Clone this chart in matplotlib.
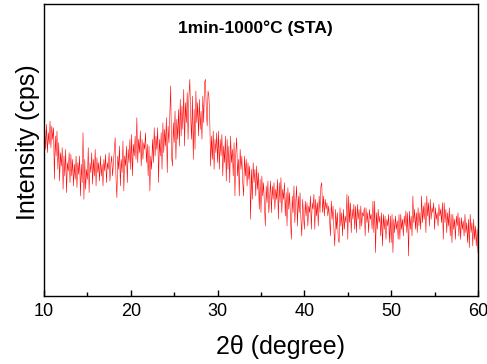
import numpy as np
import matplotlib
matplotlib.use("Agg")
import matplotlib.pyplot as plt
from matplotlib.ticker import MultipleLocator

plt.rcParams['font.family'] = ['Liberation Sans', 'DejaVu Sans']

# --- data (2theta step 0.1 deg, arbitrary cps) ---
two_theta_start = 10.0
two_theta_step = 0.1
intensity = [
    470, 500, 440, 515, 430, 490, 455, 525, 445, 510,   # 10
    470, 505, 350, 480, 420, 495, 380, 460, 345, 430,   # 11
    390, 445, 320, 420, 360, 440, 310, 400, 375, 430,   # 12
    340, 425, 360, 410, 330, 395, 350, 420, 325, 400,   # 13
    365, 420, 300, 395, 340, 490, 290, 410, 320, 380,   # 14
    350, 445, 310, 400, 370, 430, 335, 410, 360, 440,   # 15
    330, 415, 370, 400, 345, 420, 360, 395, 330, 410,   # 16
    375, 425, 340, 400, 380, 430, 345, 395, 420, 360,   # 17
    400, 440, 475, 350, 295, 420, 380, 450, 330, 410,   # 18
    370, 465, 315, 420, 390, 450, 340, 440, 400, 470,   # 19
    380, 485, 360, 455, 420, 480, 410, 535, 400, 470,   # 20
    430, 495, 390, 470, 410, 460, 440, 490, 400, 455,   # 21
    360, 450, 315, 420, 380, 470, 400, 505, 420, 480,   # 22
    440, 505, 340, 470, 420, 490, 380, 520, 430, 500,   # 23
    450, 535, 370, 510, 460, 540, 630, 420, 390, 520,   # 24
    460, 555, 410, 530, 470, 560, 450, 590, 480, 570,   # 25
    500, 620, 450, 580, 520, 610, 470, 600, 650, 540,   # 26
    470, 600, 410, 560, 440, 615, 520, 580, 480, 590,   # 27
    500, 555, 470, 600, 520, 640, 650, 560, 510, 615,   # 28
    600, 530, 390, 480, 410, 495, 380, 470, 430, 490,   # 29
    400, 495, 380, 470, 420, 485, 360, 450, 400, 480,   # 30
    345, 470, 380, 450, 340, 480, 400, 440, 360, 460,   # 31
    300, 430, 475, 360, 410, 300, 440, 380, 420, 340,   # 32
    300, 420, 360, 410, 330, 400, 350, 390, 230, 380,   # 33
    290, 400, 340, 380, 300, 390, 320, 370, 260, 350,   # 34
    250, 360, 300, 340, 270, 210, 330, 280, 345, 250,   # 35
    300, 345, 250, 330, 290, 340, 260, 320, 290, 350,   # 36
    230, 340, 280, 355, 250, 320, 290, 340, 240, 310,   # 37
    210, 325, 260, 310, 230, 170, 300, 250, 330, 220,   # 38
    280, 330, 210, 300, 250, 310, 230, 180, 290, 240,   # 39
    200, 285, 240, 280, 210, 270, 250, 300, 200, 280,   # 40
    260, 305, 200, 290, 240, 280, 210, 300, 250, 330,   # 41
    340, 250, 300, 240, 290, 260, 280, 240, 270, 230,   # 42
    180, 285, 230, 270, 200, 150, 260, 200, 250, 170,   # 43
    160, 265, 210, 250, 180, 260, 200, 240, 220, 305,   # 44
    170, 300, 220, 280, 190, 260, 230, 275, 200, 270,   # 45
    190, 275, 230, 260, 200, 270, 210, 250, 240, 265,   # 46
    180, 265, 220, 250, 190, 260, 230, 245, 200, 285,   # 47
    190, 285, 130, 250, 200, 260, 220, 240, 180, 250,   # 48
    150, 245, 200, 240, 170, 230, 210, 245, 160, 240,   # 49
    160, 245, 130, 230, 190, 240, 200, 225, 170, 245,   # 50
    170, 245, 200, 230, 180, 240, 210, 255, 190, 250,   # 51
    120, 255, 200, 240, 180, 300, 220, 260, 200, 250,   # 52
    190, 265, 210, 250, 200, 300, 220, 270, 230, 280,   # 53
    190, 300, 240, 280, 210, 290, 230, 265, 250, 280,   # 54
    200, 265, 230, 250, 210, 275, 240, 260, 220, 280,   # 55
    170, 280, 220, 260, 190, 250, 210, 265, 180, 245,   # 56
    160, 245, 200, 230, 170, 240, 210, 250, 180, 235,   # 57
    170, 235, 200, 225, 180, 245, 190, 220, 160, 230,   # 58
    145, 245, 190, 220, 150, 230, 170, 210, 150, 200,   # 59
    130,                                                 # 60
]
two_theta = two_theta_start + two_theta_step * np.arange(len(intensity))

title_text = "1min-1000\u00b0C (STA)"
x_label = "2\u03b8 (degree)"
y_label = "Intensity (cps)"

# --- plot ---
fig = plt.figure(figsize=(4.87, 3.64), dpi=100)
ax = fig.add_axes([0.0903, 0.1868, 0.8912, 0.8022])

ax.plot(two_theta, intensity, color='red', lw=0.4)

ax.set_xlim(10, 60)
ax.set_ylim(0, 876)
ax.xaxis.set_major_locator(MultipleLocator(10))
ax.xaxis.set_minor_locator(MultipleLocator(5))
ax.tick_params(axis='x', which='both', direction='in', top=False, labelsize=13, pad=5)
ax.tick_params(axis='x', which='major', length=4, width=1)
ax.tick_params(axis='x', which='minor', length=3, width=1)
ax.set_yticks([])
for s in ax.spines.values():
    s.set_linewidth(1.0)

# axis labels are a bit off-centre in the original
ax.set_xlabel(x_label, fontsize=18, labelpad=11)
ax.xaxis.label.set_x(0.544)
ax.set_ylabel(y_label, fontsize=18, labelpad=3)
ax.yaxis.label.set_y(0.526)
ax.text(0.487, 0.918, title_text, transform=ax.transAxes, ha='center', va='center',
        fontsize=12.5, fontweight='bold')

fig.savefig('out.png', dpi=100)
